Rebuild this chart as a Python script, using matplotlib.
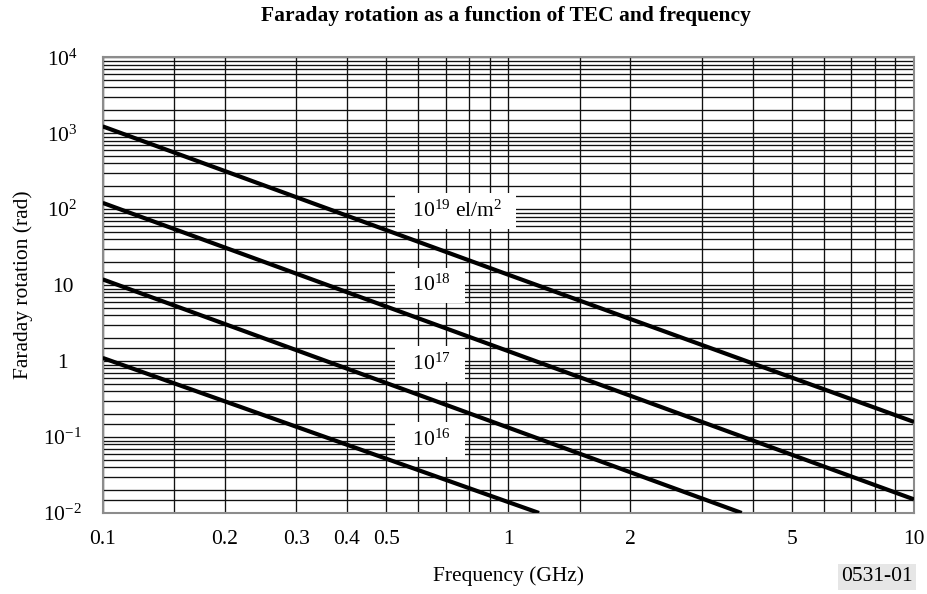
import matplotlib
matplotlib.use('Agg')
import matplotlib.pyplot as plt
from matplotlib.ticker import FixedLocator, LogLocator, NullFormatter

plt.rcParams['font.family'] = 'Liberation Serif'
plt.rcParams['mathtext.fontset'] = 'custom'
plt.rcParams['mathtext.rm'] = 'Liberation Serif'
plt.rcParams['mathtext.it'] = 'Liberation Serif:italic'

# Faraday rotation (rad) against frequency (GHz) for four TEC values
freq_1e19 = [0.1, 1, 10]
rot_1e19 = [1230, 13.7, 0.158]
freq_1e18 = [0.1, 1, 10]
rot_1e18 = [121, 1.35, 0.0151]
freq_1e17 = [0.1, 1, 3.76]
rot_1e17 = [11.9, 0.133, 0.01]
freq_1e16 = [0.1, 1, 1.19]
rot_1e16 = [1.10, 0.0139, 0.01]

tec_labels = ['10$^{19}$ el/m$^2$', '10$^{18}$', '10$^{17}$', '10$^{16}$']
label_y = [95, 9.9, 0.92, 0.092]

xticks = [0.1, 0.2, 0.3, 0.4, 0.5, 1, 2, 5, 10]
xticklabels = ['0.1', '0.2', '0.3', '0.4', '0.5', '1', '2', '5', '10']
yticks = [1e-2, 1e-1, 1, 10, 1e2, 1e3, 1e4]
yticklabels = ['10$^{-2}$', '10$^{-1}$', '1', '10', '10$^2$', '10$^3$', '10$^4$']

FS = 15.5

fig = plt.figure(figsize=(9.27, 5.94), dpi=100)
ax = fig.add_axes([0.1108, 0.1364, 0.8752, 0.7672])

for f, r in [(freq_1e19, rot_1e19), (freq_1e18, rot_1e18),
             (freq_1e17, rot_1e17), (freq_1e16, rot_1e16)]:
    ax.plot(f, r, color='black', lw=3, solid_capstyle='butt', zorder=3)

ax.set_xscale('log')
ax.set_yscale('log')
ax.set_xlim(0.1, 10)
ax.set_ylim(1e-2, 1e4)

ax.xaxis.set_major_locator(FixedLocator(xticks))
ax.set_xticklabels(xticklabels)
ax.xaxis.set_minor_locator(LogLocator(base=10, subs=[1, 1.5, 2, 3, 4, 5, 6, 7, 8, 9], numticks=50))
ax.xaxis.set_minor_formatter(NullFormatter())

ax.yaxis.set_major_locator(FixedLocator(yticks))
ax.set_yticklabels(yticklabels)
ax.yaxis.set_minor_locator(LogLocator(base=10, subs=[1.5, 2, 3, 4, 5, 6, 7, 8, 9], numticks=50))
ax.yaxis.set_minor_formatter(NullFormatter())

ax.grid(which='both', color='#111111', lw=0.95)
ax.tick_params(which='both', length=0, labelsize=FS)
ax.tick_params(axis='x', pad=12)
ax.tick_params(axis='y', pad=29)
for lab in ax.get_yticklabels():
    lab.set_horizontalalignment('center')

for s in ax.spines.values():
    s.set_color('#8c8c8c')
    s.set_linewidth(1.5)

# white boxes carrying the TEC labels
for txt, y in zip(tec_labels, label_y):
    ax.text(0.547, y, '  ' + txt + '  ', ha='left', va='center', fontsize=FS,
            bbox=dict(boxstyle='square,pad=0.33', fc='white', ec='none'), zorder=4)

ax.set_ylabel('Faraday rotation (rad)', fontsize=FS)
ax.yaxis.set_label_coords(-0.086, 0.5)
ax.set_xlabel('Frequency (GHz)', fontsize=FS)
ax.xaxis.set_label_coords(0.5, -0.118)

fig.text(0.546, 0.973, 'Faraday rotation as a function of TEC and frequency',
         ha='center', va='center', fontsize=FS, fontweight='bold')
fig.text(0.985, 0.029, '0531-01', ha='right', va='center', fontsize=FS,
         bbox=dict(boxstyle='square,pad=0.15', fc='#e6e6e6', ec='none'))

fig.savefig('out.png', dpi=100)
